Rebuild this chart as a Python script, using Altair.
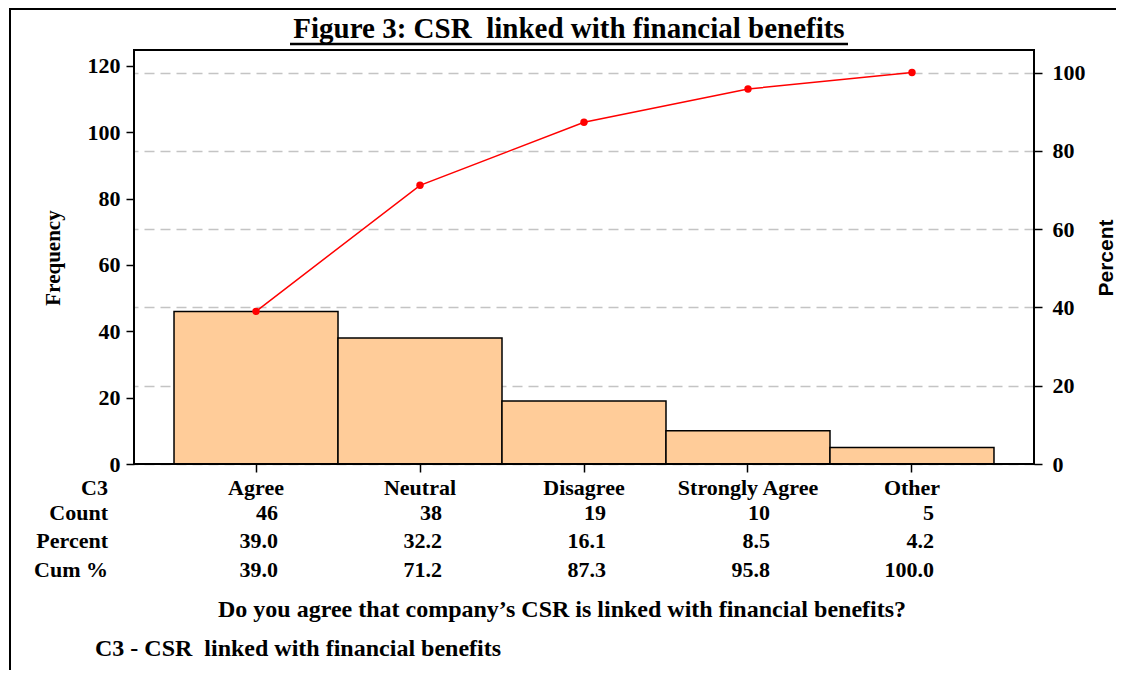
import altair as alt
import pandas as pd

cats = ["Agree", "Neutral", "Disagree", "Strongly Agree", "Other"]
counts = [46, 38, 19, 10, 5]
percents = [39.0, 32.2, 16.1, 8.5, 4.2]
cum_pct = [39.0, 71.2, 87.3, 95.8, 100.0]
freq_ticks = [0, 20, 40, 60, 80, 100, 120]
pct_ticks = [0, 20, 40, 60, 80, 100]
row_labels = ["C3", "Count", "Percent", "Cum %"]

df = pd.DataFrame({"cat": cats, "count": counts, "pct": percents, "cum": cum_pct})
one = pd.DataFrame({"a": [0]})

SERIF = "Liberation Serif"
NB = "\u00a0"
W, H = 900, 414
total = sum(counts)
fmax = 124.8
pmax = fmax * 100 / total

xs = alt.Scale(domain=cats, paddingInner=0, paddingOuter=0.244)
X = alt.X("cat:N", sort=cats, scale=xs,
          axis=alt.Axis(labels=False, title=None, domain=False, ticks=True,
                        tickSize=8, tickWidth=1.5, tickColor="black", grid=False))

base = alt.Chart(df)

bars = base.mark_bar(fill="#FFCC99", stroke="black", strokeWidth=1.5).encode(
    x=X,
    y=alt.Y("count:Q", scale=alt.Scale(domain=[0, fmax], nice=False, zero=True),
            axis=alt.Axis(values=freq_ticks, title=None, domain=False, grid=False,
                          tickSize=8, tickWidth=1.5, tickColor="black",
                          labelFont=SERIF, labelFontWeight="bold", labelFontSize=22,
                          labelColor="black", labelPadding=6, orient="left")),
)

ycum = alt.Y("cum:Q", scale=alt.Scale(domain=[0, pmax], nice=False, zero=True),
             axis=alt.Axis(values=pct_ticks, title=None, domain=False, grid=True,
                           gridColor="#c4c4c4", gridDash=[10, 6], gridWidth=1.5,
                           tickSize=8, tickWidth=1.5, tickColor="black",
                           labelFont=SERIF, labelFontWeight="bold", labelFontSize=22,
                           labelColor="black", labelPadding=10, orient="right"))
line = base.mark_line(color="#FF0000", strokeWidth=1.5,
                      point=alt.OverlayMarkDef(filled=True, color="#FF0000", size=55, opacity=1)
                      ).encode(x=X, y=ycum)

tfont = dict(font=SERIF, fontWeight="bold", fontSize=22, color="black")

row_cat = base.mark_text(align="center", baseline="alphabetic", **tfont).encode(
    x=X, y=alt.value(445), text="cat:N")
row_cnt = base.mark_text(align="right", baseline="alphabetic", dx=22, **tfont).encode(
    x=X, y=alt.value(470), text="count:Q")
row_pct = base.mark_text(align="right", baseline="alphabetic", dx=22, **tfont).encode(
    x=X, y=alt.value(498), text=alt.Text("pct:Q", format=".1f"))
row_cum = base.mark_text(align="right", baseline="alphabetic", dx=22, **tfont).encode(
    x=X, y=alt.value(527), text=alt.Text("cum:Q", format=".1f"))

lab_y = [445, 470, 498, 527]
labels = [
    alt.Chart(one).mark_text(align="right", baseline="alphabetic", **tfont).encode(
        x=alt.value(-26), y=alt.value(yy), text=alt.value(lab))
    for lab, yy in zip(row_labels, lab_y)
]

title = alt.Chart(one).mark_text(align="center", baseline="alphabetic",
                                 font=SERIF, fontWeight="bold", fontSize=29, color="black").encode(
    x=alt.value(435), y=alt.value(-12),
    text=alt.value("Figure 3: CSR" + NB + " linked with financial benefits"))
underline = alt.Chart(one).mark_rule(color="black", strokeWidth=2.5).encode(
    x=alt.value(156), x2=alt.value(714), y=alt.value(-6))

ytitle_l = alt.Chart(one).mark_text(angle=270, align="center", baseline="middle",
                                    font=SERIF, fontWeight="bold", fontSize=21, color="black").encode(
    x=alt.value(-80), y=alt.value(208), text=alt.value("Frequency"))
ytitle_r = alt.Chart(one).mark_text(angle=270, align="center", baseline="middle",
                                    font="Liberation Sans", fontWeight="bold", fontSize=21, color="black").encode(
    x=alt.value(973), y=alt.value(208), text=alt.value("Percent"))

foot1 = alt.Chart(one).mark_text(align="center", baseline="alphabetic",
                                 font=SERIF, fontWeight="bold", fontSize=24, color="black").encode(
    x=alt.value(428), y=alt.value(567),
    text=alt.value("Do you agree that company\u2019s CSR is linked with financial benefits?"))
foot2 = alt.Chart(one).mark_text(align="left", baseline="alphabetic",
                                 font=SERIF, fontWeight="bold", fontSize=24, color="black").encode(
    x=alt.value(-39), y=alt.value(606),
    text=alt.value("C3 - CSR" + NB + " linked with financial benefits"))

frame = alt.Chart(one).mark_rect(fill=None, stroke="black", strokeWidth=2).encode(
    x=alt.value(0), x2=alt.value(W), y=alt.value(0), y2=alt.value(H))

border_top = alt.Chart(one).mark_rule(color="black", strokeWidth=2).encode(
    x=alt.value(-124), x2=alt.value(1000), y=alt.value(-41))
border_left = alt.Chart(one).mark_rule(color="black", strokeWidth=2).encode(
    x=alt.value(-124), y=alt.value(-42), y2=alt.value(640))

main = alt.layer(bars, line).resolve_scale(y="independent")

chart = alt.layer(
    main, frame, row_cat, row_cnt, row_pct, row_cum, *labels, title, underline,
    ytitle_l, ytitle_r, foot1, foot2, border_top, border_left
).properties(
    width=W, height=H,
    background="white",
    autosize=alt.AutoSizeParams(type="none"),
    padding={"left": 126, "top": 42, "right": 82, "bottom": 206},
).configure_view(stroke=None)

chart.save("out.html", embed_options={"renderer": "svg", "actions": False})
